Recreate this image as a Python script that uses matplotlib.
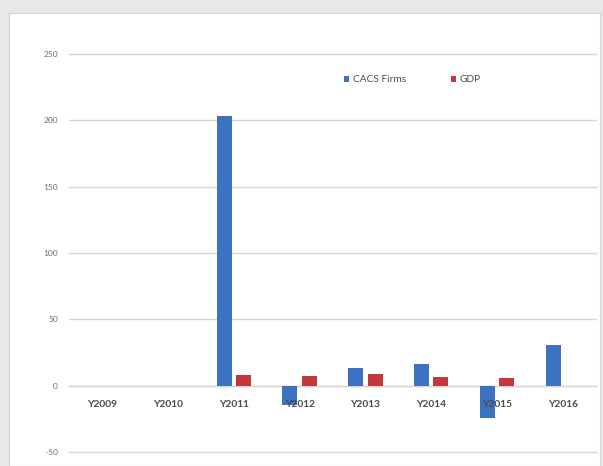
import matplotlib.pyplot as plt
import matplotlib.patches as patches
import numpy as np

# Growth rates by year (%)
years = ['Y2009', 'Y2010', 'Y2011', 'Y2012', 'Y2013', 'Y2014', 'Y2015', 'Y2016']
cacs_firms = [0, 0, 203, -14.5, 13.3, 16.6, -24.3, 31]
gdp = [0, 0, 7.8, 7.0, 8.8, 6.5, 5.8, 0]

BLUE = '#3d72c2'
RED = '#c4373a'

plt.rcParams['font.family'] = ['Lato', 'DejaVu Sans']
plt.rcParams['axes.unicode_minus'] = False

fig = plt.figure(figsize=(6.03, 4.66), dpi=100)
fig.patch.set_facecolor('#e9e8e7')

# white chart panel behind the axes
panel = patches.Rectangle((9 / 603, 0), 591 / 603, 453 / 466,
                          transform=fig.transFigure, facecolor='white',
                          edgecolor='#d6d3d0', linewidth=0.8, zorder=-5)
fig.patches.append(panel)

ax = fig.add_axes([69 / 603, 14 / 466, 527 / 603, 398 / 466])
ax.set_facecolor('none')

x = np.arange(len(years))
w = 0.228
off = 0.146
ax.bar(x - off, cacs_firms, width=w, color=BLUE, label='CACS Firms', zorder=3)
ax.bar(x + off, gdp, width=w, color=RED, label='GDP', zorder=3)

ax.set_xlim(-0.5, len(years) - 0.5)
ax.set_ylim(-50, 250)
ax.set_yticks(np.arange(-50, 251, 50))
ax.yaxis.grid(True, color='#ddd3cf', linewidth=1.0, zorder=0)
ax.set_axisbelow(True)
for gl in ax.get_ygridlines():
    gl.set_clip_on(False)

for s in ['top', 'right', 'left']:
    ax.spines[s].set_visible(False)
ax.spines['bottom'].set_position(('data', 0))
ax.spines['bottom'].set_color('#ddd3cf')
ax.spines['bottom'].set_linewidth(1.0)

# category labels just under the zero line, drawn above the bars
ax.set_xticks(x)
ax.set_xticklabels([])
ax.tick_params(axis='x', length=0)
for xi, name in zip(x, years):
    ax.annotate(name, (xi, 0), xytext=(0, -10.5), textcoords='offset points',
                ha='center', va='top', fontsize=7.3, color='#4a4a4a',
                fontweight='bold', zorder=5)

ax.tick_params(axis='y', length=0, pad=8, labelsize=6, labelcolor='#6e6e6e')

ax.legend(loc='center left', bbox_to_anchor=(0.512, 0.935), ncol=2,
          frameon=False, fontsize=7.3, handlelength=0.55, handleheight=0.55,
          handletextpad=0.35, columnspacing=4.4, borderpad=0,
          labelcolor='#4a4a4a')

plt.savefig('out.png', dpi=100, facecolor=fig.get_facecolor())
